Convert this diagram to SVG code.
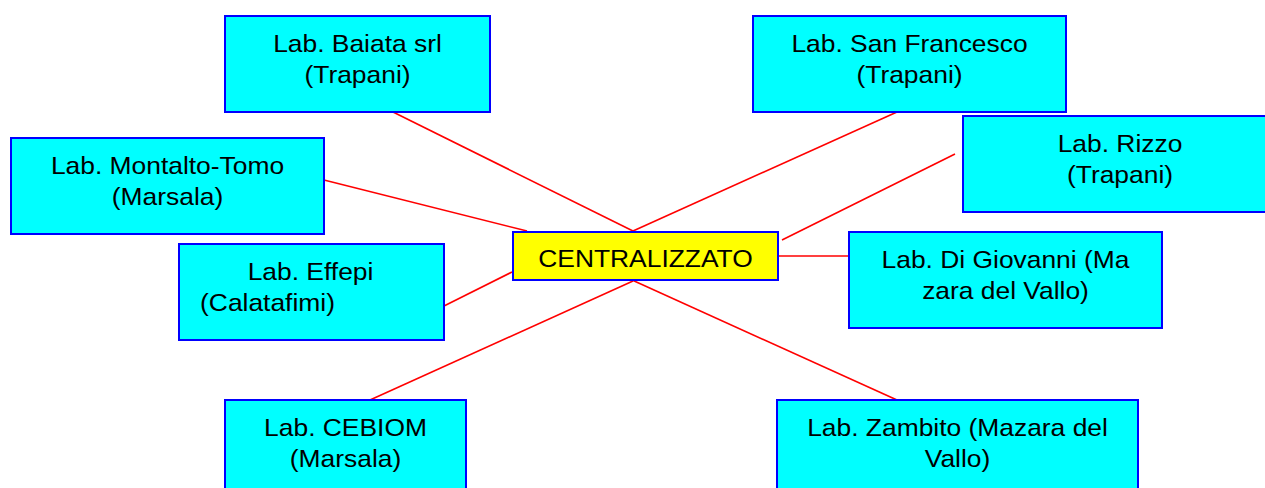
<svg xmlns="http://www.w3.org/2000/svg" width="1265" height="488" viewBox="0 0 1265 488">
<style>
.box{fill:#00FFFF;stroke:#0000FF;stroke-width:2}
.ctr{fill:#FFFF00;stroke:#0000FF;stroke-width:2}
.t{font-family:"Liberation Sans",Arial,sans-serif;font-size:24px;fill:#000;text-anchor:middle}
.c line{stroke:#FF0000;stroke-width:1.6}
</style>
<rect width="1265" height="488" fill="#FFFFFF"/>
<g id="connectors" class="c">
<line x1="393" y1="112" x2="633" y2="231"/>
<line x1="897" y1="112" x2="633" y2="231"/>
<line x1="320" y1="179" x2="527" y2="231"/>
<line x1="955" y1="154" x2="782" y2="240"/>
<line x1="778" y1="256" x2="849" y2="256"/>
<line x1="444" y1="306" x2="512" y2="272"/>
<line x1="370" y1="400" x2="633" y2="281"/>
<line x1="632" y1="280" x2="897" y2="400"/>
</g>
<g id="baiata">
<rect class="box" x="225" y="16" width="265" height="96"/>
<text class="t" transform="translate(357.5,52) scale(1.1,1)">Lab. Baiata srl</text>
<text class="t" transform="translate(357.5,83) scale(1.1,1)">(Trapani)</text>
</g>
<g id="sanfrancesco">
<rect class="box" x="753" y="16" width="313" height="96"/>
<text class="t" transform="translate(909.5,52) scale(1.1,1)">Lab. San Francesco</text>
<text class="t" transform="translate(909.5,83) scale(1.1,1)">(Trapani)</text>
</g>
<g id="montalto">
<rect class="box" x="11" y="138" width="313" height="96"/>
<text class="t" transform="translate(167.5,174) scale(1.1,1)">Lab. Montalto-Tomo</text>
<text class="t" transform="translate(167.5,205) scale(1.1,1)">(Marsala)</text>
</g>
<g id="rizzo">
<rect class="box" x="963" y="116" width="314" height="96"/>
<text class="t" transform="translate(1120,152) scale(1.1,1)">Lab. Rizzo</text>
<text class="t" transform="translate(1120,183) scale(1.1,1)">(Trapani)</text>
</g>
<g id="centralizzato">
<rect class="ctr" x="513" y="232" width="265" height="48"/>
<text class="t" transform="translate(645.5,267) scale(1.1,1)">CENTRALIZZATO</text>
</g>
<g id="effepi">
<rect class="box" x="179" y="244" width="265" height="96"/>
<text class="t" transform="translate(310.5,280) scale(1.1,1)">Lab. Effepi</text>
<text class="t" transform="translate(267.5,311) scale(1.1,1)">(Calatafimi)</text>
</g>
<g id="digiovanni">
<rect class="box" x="849" y="232" width="313" height="96"/>
<text class="t" transform="translate(1005.5,268) scale(1.1,1)">Lab. Di Giovanni (Ma</text>
<text class="t" transform="translate(1005.5,299) scale(1.1,1)">zara del Vallo)</text>
</g>
<g id="cebiom">
<rect class="box" x="225" y="400" width="241" height="96"/>
<text class="t" transform="translate(345.5,436) scale(1.1,1)">Lab. CEBIOM</text>
<text class="t" transform="translate(345.5,467) scale(1.1,1)">(Marsala)</text>
</g>
<g id="zambito">
<rect class="box" x="777" y="400" width="361" height="96"/>
<text class="t" transform="translate(957.5,436) scale(1.1,1)">Lab. Zambito (Mazara del</text>
<text class="t" transform="translate(957.5,467) scale(1.1,1)">Vallo)</text>
</g>
</svg>
